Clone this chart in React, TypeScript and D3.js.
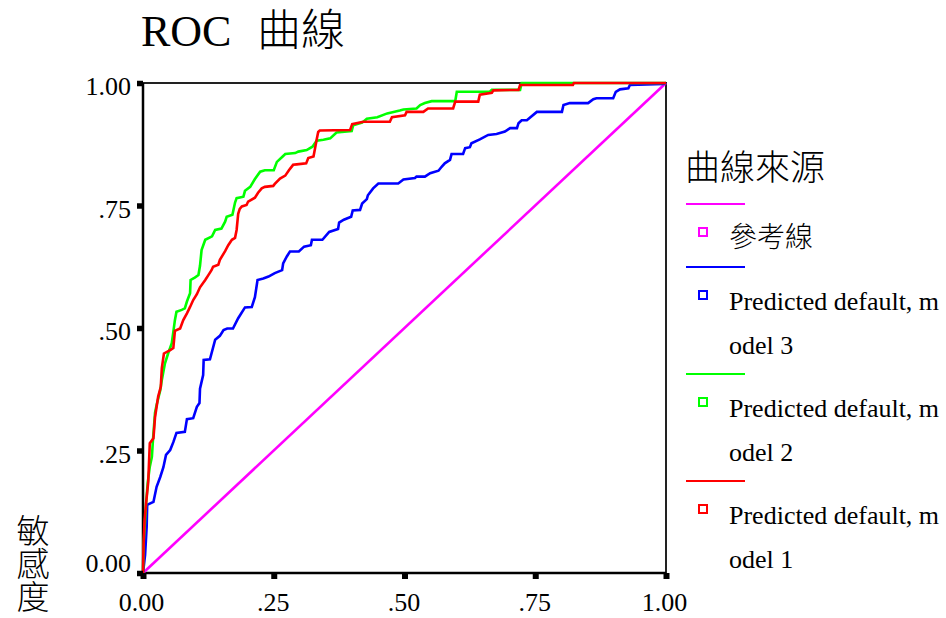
import React, { useRef, useEffect } from 'react';
import * as d3 from 'd3';

// axis ticks
const tickValues = [0, 0.25, 0.5, 0.75, 1];
const tickLabels = ['0.00', '.25', '.50', '.75', '1.00'];

// legend (labels wrapped the way the original output wraps them)
const legendTitle = '曲線來源';
const legendLabels = [
  ['參考線'],
  ['Predicted default, m', 'odel 3'],
  ['Predicted default, m', 'odel 2'],
  ['Predicted default, m', 'odel 1'],
];
const seriesColors = ['#ff00ff', '#0000ff', '#00ff00', '#ff0000'];

// [1 - specificity, sensitivity]
const referenceLine: [number, number][] = [[0, 0], [1, 1]];

const model3: [number, number][] = [
  [0, 0], [0.004, 0.037], [0.007, 0.094], [0.008, 0.139], [0.020, 0.145], [0.026, 0.176],
  [0.033, 0.196], [0.039, 0.216], [0.044, 0.241], [0.052, 0.251], [0.058, 0.267], [0.064, 0.286],
  [0.080, 0.288], [0.084, 0.314], [0.096, 0.316], [0.103, 0.339], [0.108, 0.347], [0.109, 0.376],
  [0.115, 0.404], [0.116, 0.435], [0.128, 0.436], [0.138, 0.476], [0.147, 0.484], [0.154, 0.496],
  [0.161, 0.499], [0.172, 0.499], [0.182, 0.520], [0.195, 0.542], [0.208, 0.543], [0.214, 0.563],
  [0.219, 0.598], [0.230, 0.601], [0.240, 0.605], [0.252, 0.612], [0.266, 0.618], [0.268, 0.632],
  [0.275, 0.646], [0.281, 0.656], [0.298, 0.656], [0.308, 0.666], [0.321, 0.669], [0.323, 0.680],
  [0.343, 0.680], [0.356, 0.696], [0.373, 0.702], [0.375, 0.715], [0.384, 0.721], [0.398, 0.727],
  [0.401, 0.740], [0.415, 0.741], [0.419, 0.754], [0.428, 0.763], [0.430, 0.771], [0.440, 0.785],
  [0.450, 0.795], [0.488, 0.795], [0.498, 0.803], [0.520, 0.806], [0.523, 0.809], [0.539, 0.809],
  [0.549, 0.816], [0.565, 0.821], [0.571, 0.829], [0.577, 0.836], [0.587, 0.843], [0.590, 0.855],
  [0.612, 0.855], [0.616, 0.867], [0.625, 0.869], [0.628, 0.877], [0.644, 0.885], [0.660, 0.894],
  [0.676, 0.896], [0.692, 0.901], [0.702, 0.908], [0.715, 0.908], [0.718, 0.918], [0.724, 0.924],
  [0.734, 0.924], [0.753, 0.941], [0.801, 0.941], [0.804, 0.955], [0.816, 0.959], [0.851, 0.959],
  [0.861, 0.967], [0.867, 0.969], [0.899, 0.969], [0.904, 0.982], [0.912, 0.987], [0.928, 0.989],
  [0.931, 0.996], [0.995, 0.998], [1, 1],
];

const model2: [number, number][] = [
  [0, 0], [0.001, 0.057], [0.004, 0.108], [0.006, 0.143], [0.009, 0.184], [0.013, 0.217],
  [0.017, 0.237], [0.019, 0.271], [0.023, 0.327], [0.026, 0.343], [0.033, 0.373], [0.036, 0.394],
  [0.042, 0.428], [0.048, 0.448], [0.055, 0.469], [0.058, 0.492], [0.061, 0.516], [0.064, 0.533],
  [0.074, 0.537], [0.080, 0.540], [0.084, 0.554], [0.090, 0.571], [0.091, 0.598], [0.099, 0.603],
  [0.106, 0.608], [0.109, 0.627], [0.112, 0.659], [0.119, 0.680], [0.132, 0.687], [0.138, 0.700],
  [0.150, 0.703], [0.157, 0.717], [0.160, 0.727], [0.171, 0.731], [0.176, 0.756], [0.179, 0.765],
  [0.192, 0.768], [0.195, 0.780], [0.205, 0.788], [0.214, 0.804], [0.224, 0.819], [0.233, 0.822],
  [0.250, 0.822], [0.256, 0.839], [0.266, 0.849], [0.272, 0.855], [0.291, 0.857], [0.297, 0.860],
  [0.313, 0.863], [0.324, 0.870], [0.332, 0.882], [0.345, 0.884], [0.358, 0.887], [0.370, 0.899],
  [0.399, 0.902], [0.402, 0.914], [0.419, 0.919], [0.428, 0.927], [0.448, 0.930], [0.467, 0.938],
  [0.491, 0.944], [0.498, 0.946], [0.523, 0.948], [0.530, 0.955], [0.539, 0.959], [0.552, 0.963],
  [0.597, 0.963], [0.600, 0.982], [0.663, 0.982], [0.667, 0.986], [0.721, 0.986], [0.724, 1],
  [1, 1],
];

const model1: [number, number][] = [
  [0, 0], [0.001, 0.057], [0.003, 0.108], [0.006, 0.143], [0.010, 0.186], [0.013, 0.265],
  [0.020, 0.275], [0.023, 0.318], [0.029, 0.360], [0.034, 0.380], [0.036, 0.418], [0.040, 0.448],
  [0.052, 0.455], [0.058, 0.459], [0.061, 0.494], [0.071, 0.499], [0.077, 0.516], [0.084, 0.530],
  [0.090, 0.543], [0.096, 0.557], [0.103, 0.569], [0.109, 0.583], [0.119, 0.598], [0.125, 0.608],
  [0.131, 0.618], [0.134, 0.625], [0.144, 0.629], [0.147, 0.639], [0.157, 0.657], [0.163, 0.669],
  [0.170, 0.680], [0.176, 0.684], [0.179, 0.700], [0.182, 0.733], [0.185, 0.743], [0.189, 0.748],
  [0.198, 0.751], [0.201, 0.758], [0.214, 0.766], [0.220, 0.776], [0.227, 0.785], [0.233, 0.788],
  [0.249, 0.790], [0.252, 0.794], [0.262, 0.805], [0.272, 0.811], [0.279, 0.822], [0.287, 0.833],
  [0.294, 0.834], [0.312, 0.836], [0.316, 0.847], [0.326, 0.850], [0.329, 0.867], [0.332, 0.884],
  [0.335, 0.900], [0.338, 0.903], [0.396, 0.904], [0.400, 0.916], [0.421, 0.921], [0.472, 0.921],
  [0.476, 0.930], [0.501, 0.934], [0.504, 0.941], [0.536, 0.941], [0.545, 0.948], [0.593, 0.948],
  [0.597, 0.962], [0.641, 0.962], [0.644, 0.976], [0.667, 0.980], [0.670, 0.985], [0.718, 0.986],
  [0.721, 0.996], [0.822, 0.996], [0.824, 1], [1, 1],
];

const seriesData = [referenceLine, model3, model2, model1];

const serif = '"Liberation Serif", "Times New Roman", "Noto Sans CJK TC", serif';

export default function App() {
  const chartRef = useRef<SVGSVGElement>(null);
  const width = 946, height = 618;

  useEffect(() => {
    const plot = { left: 143, right: 666, top: 83, bottom: 573 };

    const svg = d3.select(chartRef.current);
    svg.selectAll('*').remove();

    const xScale = d3.scaleLinear().domain([0, 1]).range([plot.left, plot.right]);
    const yScale = d3.scaleLinear().domain([0, 1]).range([plot.bottom, plot.top]);

    svg.append('rect').attr('width', width).attr('height', height).attr('fill', '#fff');

    // title
    const title = svg.append('text')
      .attr('x', 141).attr('y', 46)
      .style('font-family', serif).attr('fill', '#000');
    title.append('tspan').attr('font-size', 44).text('ROC');
    title.append('tspan').attr('x', 257).attr('font-size', 44).attr('font-weight', 300).text('曲線');

    // frame
    svg.append('rect')
      .attr('x', plot.left).attr('y', plot.top)
      .attr('width', plot.right - plot.left).attr('height', plot.bottom - plot.top)
      .attr('fill', 'none').attr('stroke', '#222').attr('stroke-width', 2);
    svg.append('path')
      .attr('d', `M${plot.left},${plot.top}V${plot.bottom}H${plot.right}`)
      .attr('fill', 'none').attr('stroke', '#000').attr('stroke-width', 2.5);

    // curves
    const line = d3.line<[number, number]>()
      .x(d => xScale(d[0]))
      .y(d => yScale(d[1]));

    seriesData.forEach((d, i) => {
      svg.append('path')
        .datum(d)
        .attr('d', line)
        .attr('fill', 'none')
        .attr('stroke', seriesColors[i])
        .attr('stroke-width', 2.6);
    });

    // axes
    const yAxis = d3.axisLeft(yScale)
      .tickValues(tickValues)
      .tickSize(6)
      .tickPadding(6)
      .tickFormat((_, i) => tickLabels[i]);
    const gy = svg.append('g').attr('transform', `translate(${plot.left},0)`).call(yAxis);
    gy.select('.domain').remove();
    gy.selectAll('line').attr('stroke', '#000').attr('stroke-width', 5.5);
    gy.selectAll('text')
      .style('font-family', serif).attr('font-size', 26).attr('fill', '#000')
      .attr('dy', (_, i) => (i === 0 ? '-0.05em' : '0.45em'));

    const xAxis = d3.axisBottom(xScale)
      .tickValues(tickValues)
      .tickSize(6)
      .tickFormat((_, i) => tickLabels[i]);
    const gx = svg.append('g').attr('transform', `translate(0,${plot.bottom})`).call(xAxis);
    gx.select('.domain').remove();
    gx.selectAll('line').attr('stroke', '#000').attr('stroke-width', 6);
    gx.selectAll('text')
      .style('font-family', serif).attr('font-size', 26).attr('fill', '#000')
      .attr('y', 38).attr('dy', 0)
      .attr('dx', (_, i) => (i === 0 ? -2 : i === 4 ? -2 : -1));

    // y axis caption, stacked characters
    const yCap = svg.append('text')
      .attr('text-anchor', 'middle')
      .style('font-family', serif).attr('font-size', 33).attr('font-weight', 300).attr('fill', '#000');
    Array.from('敏感度').forEach((ch, i) => {
      yCap.append('tspan').attr('x', 33).attr('y', 543 + i * 33).text(ch);
    });

    // legend
    const legend = svg.append('g').style('font-family', serif).attr('fill', '#000');
    legend.append('text').attr('x', 685).attr('y', 180)
      .attr('font-size', 35).attr('font-weight', 300).text(legendTitle);

    let rowY = 204;
    legendLabels.forEach((lines, i) => {
      legend.append('line')
        .attr('x1', 686).attr('x2', 745)
        .attr('y1', rowY).attr('y2', rowY)
        .attr('stroke', seriesColors[i]).attr('stroke-width', 2);
      legend.append('rect')
        .attr('x', 699).attr('y', rowY + 24)
        .attr('width', 8).attr('height', 8)
        .attr('fill', 'none').attr('stroke', seriesColors[i]).attr('stroke-width', 2);
      lines.forEach((t, k) => {
        legend.append('text')
          .attr('x', 729).attr('y', rowY + 43 + k * 44)
          .attr('font-size', i === 0 ? 28 : 26)
          .attr('font-weight', i === 0 ? 300 : 400)
          .text(t);
      });
      rowY += 19 + 44 * lines.length;
    });
  }, []);

  return (
    <div>
      <svg
        width={width}
        height={height}
        ref={chartRef}
        style={{ position: 'absolute', left: 0, top: 0, display: 'block' }}
      />
    </div>
  );
}
